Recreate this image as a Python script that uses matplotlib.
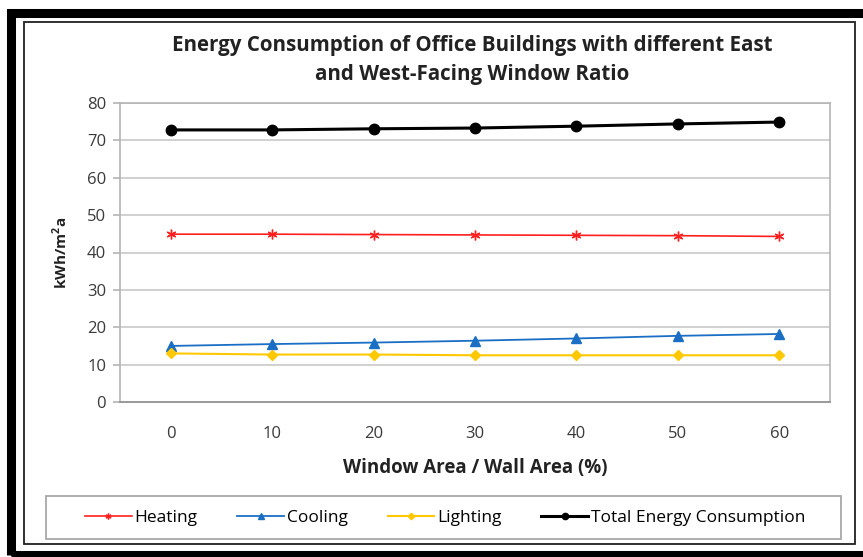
import matplotlib
matplotlib.use('Agg')
import matplotlib.pyplot as plt
from matplotlib.patches import Rectangle

plt.rcParams['font.family'] = ['Open Sans', 'DejaVu Sans']
plt.rcParams['mathtext.fontset'] = 'custom'
plt.rcParams['mathtext.rm'] = 'Open Sans'
plt.rcParams['mathtext.bf'] = 'Open Sans:bold'

ratio = ['0', '10', '20', '30', '40', '50', '60']
heating = [44.9, 44.9, 44.8, 44.7, 44.6, 44.5, 44.3]
cooling = [15.0, 15.5, 15.9, 16.4, 17.0, 17.7, 18.2]
lighting = [13.0, 12.7, 12.7, 12.5, 12.5, 12.5, 12.5]
total = [72.8, 72.8, 73.1, 73.3, 73.8, 74.4, 74.9]
yticks = [0, 10, 20, 30, 40, 50, 60, 70, 80]

W, H = 863, 557
fig = plt.figure(figsize=(W / 100, H / 100), dpi=100)

# picture frame: thick black outer, thin inner
fig.add_artist(Rectangle((10.5 / W, 1 - 554.5 / H), 900 / W, (554.5 - 13) / H,
                         transform=fig.transFigure, fill=False, ec='black', lw=6.5))
fig.add_artist(Rectangle((24 / W, 1 - 544 / H), (855 - 24) / W, (544 - 22) / H,
                         transform=fig.transFigure, fill=False, ec='#202020', lw=1.3))

ax = fig.add_axes([120 / W, 1 - 402 / H, (830 - 120) / W, (402 - 103) / H])
x = range(len(ratio))
ax.plot(x, heating, color='#ff1f1f', lw=1.2, marker=(6, 2, 0), ms=7, mew=1.0, label='Heating')
ax.plot(x, cooling, color='#1a6fc4', lw=1.3, marker='^', ms=7, label='Cooling')
ax.plot(x, lighting, color='#ffc800', lw=1.5, marker='D', ms=5.5, label='Lighting')
ax.plot(x, total, color='black', lw=2.2, marker='o', ms=7.5, label='Total Energy Consumption')

ax.set_xlim(-0.5, len(ratio) - 0.5)
ax.set_ylim(0, 80)
ax.set_yticks(yticks)
ax.set_xticks(list(x))
ax.set_xticklabels(ratio)
ax.grid(axis='y', color='#c8c8c8', lw=1.2)
ax.set_axisbelow(True)
for s in ['left', 'right', 'top']:
    ax.spines[s].set_color('#b4b4b4')
    ax.spines[s].set_linewidth(1.2)
ax.spines['bottom'].set_color('#9a9a9a')
ax.spines['bottom'].set_linewidth(1.4)
ax.tick_params(axis='y', length=5, color='#b4b4b4', width=1.2, pad=5,
               labelsize=12, labelcolor='#3a3a3a')
ax.tick_params(axis='x', length=0, pad=17, labelsize=12, labelcolor='#3a3a3a')

ax.set_xlabel('Window Area / Wall Area (%)', fontsize=13.5, fontweight='bold',
              color='#222222', labelpad=12)
ax.set_ylabel(r'kWh/m$^\mathbf{2}$a', fontsize=11, fontweight='bold', color='#222222', labelpad=12)

fig.text(472 / W, 1 - 60 / H,
         'Energy Consumption of Office Buildings with different East\nand West-Facing Window Ratio',
         ha='center', va='center', fontsize=14.8, fontweight='bold', color='#222222',
         linespacing=1.45)

# legend box
fig.add_artist(Rectangle((46 / W, 1 - 539 / H), (841 - 46) / W, (539 - 496) / H,
                         transform=fig.transFigure, fill=False, ec='#a8a8a8', lw=1.3))
fig.legend(loc='center', bbox_to_anchor=(445 / W, 1 - 517.5 / H), ncol=4,
           frameon=False, fontsize=12.5, handlelength=2.7, handletextpad=0.15,
           columnspacing=2.3, markerscale=0.6)

fig.savefig('out.png', dpi=100)
